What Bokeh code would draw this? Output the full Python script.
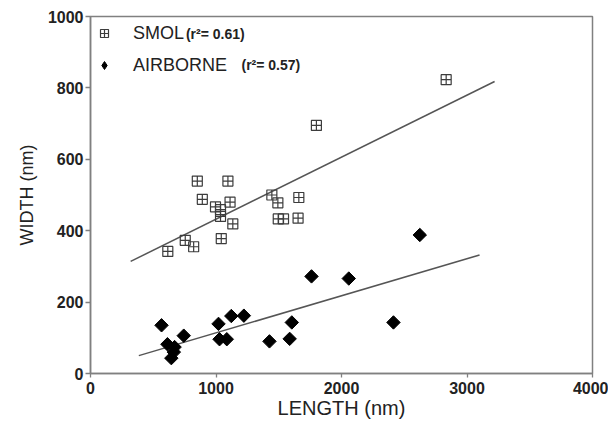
from bokeh.plotting import figure
from bokeh.models import Range1d, Legend, LegendItem, Label, FixedTicker
from bokeh.embed import file_html
from bokeh.resources import INLINE
import math

# SMOL data (length nm, width nm)
smol_length = [616, 755, 822, 851, 891, 996, 1036, 1036, 1095, 1112, 1134, 1042,
               1445, 1493, 1660, 1496, 1538, 1654, 1800, 2834]
smol_width = [342, 373, 355, 539, 488, 467, 459, 440, 539, 480, 419, 378,
              500, 478, 493, 433, 433, 435, 695, 823]

# AIRBORNE data
air_length = [566, 613, 670, 664, 644, 743, 1020, 1028, 1086, 1122, 1222,
              1426, 1587, 1604, 1761, 2058, 2414, 2624]
air_width = [135, 82, 74, 60, 43, 106, 139, 96, 96, 161, 162,
             90, 97, 143, 272, 266, 143, 388]

# regression lines (end points)
smol_fit_x = [320, 3220]
smol_fit_y = [314, 818]
air_fit_x = [385, 3100]
air_fit_y = [50, 332]

smol_label = "SMOL"
air_label = "AIRBORNE"
smol_r2 = "(r\u00b2= 0.61)"
air_r2 = "(r\u00b2= 0.57)"
x_title = "LENGTH (nm)"
y_title = "WIDTH (nm)"

x_ticks = [0, 1000, 2000, 3000, 4000]
y_ticks = [0, 200, 400, 600, 800, 1000]

FONT = "Liberation Sans"
GRAY = "#808080"
TXT = "#222222"

p = figure(width=608, height=425, output_backend="svg", toolbar_location=None,
           x_range=Range1d(0, 4000), y_range=Range1d(0, 1000),
           min_border_left=90, min_border_right=16, min_border_top=16, min_border_bottom=52)
p.background_fill_color = "white"
p.border_fill_color = "white"
p.outline_line_color = GRAY
p.outline_line_width = 1.5
p.grid.visible = False

for ax in (p.xaxis[0], p.yaxis[0]):
    ax.axis_line_color = GRAY
    ax.axis_line_width = 1.5
    ax.major_tick_line_color = GRAY
    ax.major_tick_line_width = 1.3
    ax.minor_tick_line_color = None
    ax.major_tick_in = 0
    ax.major_label_text_font = FONT
    ax.major_label_text_font_style = "bold"
    ax.major_label_text_font_size = "16px"
    ax.major_label_text_color = TXT
    ax.axis_label_text_font = FONT
    ax.axis_label_text_font_style = "normal"
    ax.axis_label_text_color = TXT

p.xaxis[0].ticker = FixedTicker(ticks=x_ticks)
p.yaxis[0].ticker = FixedTicker(ticks=y_ticks)
p.xaxis[0].major_tick_out = 4
p.xaxis[0].major_label_standoff = 4
p.yaxis[0].major_tick_out = 5
p.yaxis[0].major_label_standoff = 2
p.xaxis[0].axis_label = x_title
p.yaxis[0].axis_label = y_title
p.xaxis[0].axis_label_text_font_size = "20px"
p.yaxis[0].axis_label_text_font_size = "18px"
p.xaxis[0].axis_label_standoff = 0
p.yaxis[0].axis_label_standoff = 8

p.line(smol_fit_x, smol_fit_y, line_color="#555555", line_width=1.5)
p.line(air_fit_x, air_fit_y, line_color="#555555", line_width=1.5)

r_smol = p.scatter(smol_length, smol_width, marker="square_cross", size=10,
                   fill_color=None, line_color="#3c3c3c", line_width=1.2)
# diamond glyph (hidden under the rotated squares) used as legend key
r_air_key = p.scatter(air_length, air_width, marker="diamond", size=11,
                      fill_color="black", line_color="black")
r_air = p.scatter(air_length, air_width, marker="square", size=9.5, angle=math.pi / 4,
                  fill_color="black", line_color="black")

legend = Legend(items=[LegendItem(label=smol_label, renderers=[r_smol]),
                       LegendItem(label=air_label, renderers=[r_air_key])],
                location="top_left", margin=4, padding=0, spacing=6,
                glyph_width=20, glyph_height=26, label_height=26, label_standoff=19,
                label_text_font=FONT, label_text_font_size="18px",
                label_text_color=TXT,
                border_line_color=None, background_fill_alpha=0)
p.add_layout(legend)

p.add_layout(Label(x=760, y=952, text=smol_r2, text_font=FONT, text_font_size="14px",
                   text_font_style="bold", text_baseline="middle", text_color=TXT))
p.add_layout(Label(x=1203, y=863, text=air_r2, text_font=FONT, text_font_size="14px",
                   text_font_style="bold", text_baseline="middle", text_color=TXT))

open("out.html", "w").write(file_html(p, INLINE))
